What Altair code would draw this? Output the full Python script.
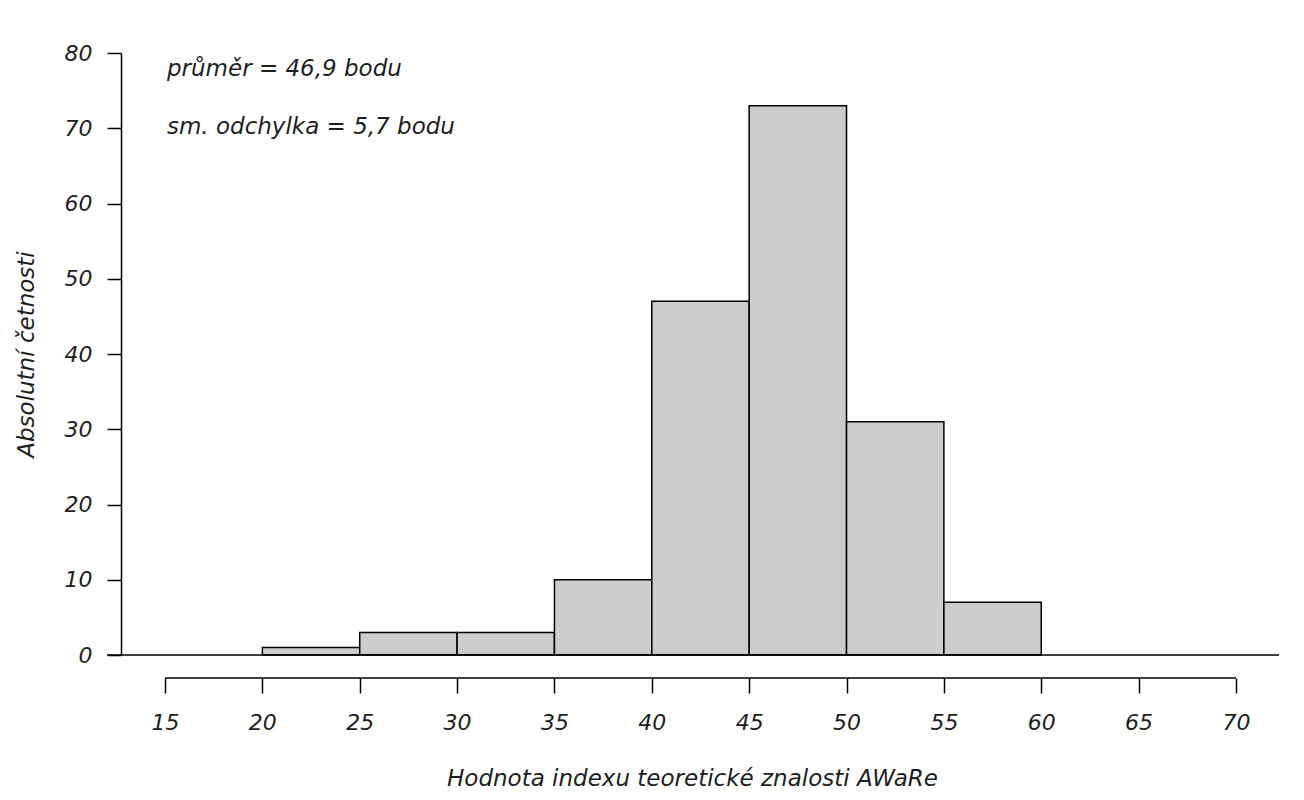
import altair as alt
import pandas as pd

# histogram bins (left edge, right edge) and absolute counts
bin_start = [15, 20, 25, 30, 35, 40, 45, 50, 55, 60, 65]
bin_end = [20, 25, 30, 35, 40, 45, 50, 55, 60, 65, 70]
counts = [0, 1, 3, 3, 10, 47, 73, 31, 7, 0, 0]

x_ticks = [15, 20, 25, 30, 35, 40, 45, 50, 55, 60, 65, 70]
y_ticks = [0, 10, 20, 30, 40, 50, 60, 70, 80]

notes = ["průměr = 46,9 bodu", "sm. odchylka = 5,7 bodu"]
note_x = [15.1, 15.1]
note_y = [77.9, 70.2]

FONT = "DejaVu Sans"
INK = "#1e1e1e"
W, H = 1158, 602

bins = pd.DataFrame({"start": bin_start, "end": bin_end, "count": counts})
bins = bins[bins["count"] > 0]
ann = pd.DataFrame({"label": notes, "x": note_x, "y": note_y})

x_scale = alt.Scale(domain=[12.74, 72.21], nice=False, zero=False)
y_scale = alt.Scale(domain=[0, 80], nice=False)

bars = alt.Chart(bins).mark_rect(fill="#cccccc", stroke="#000000", strokeWidth=1.5).encode(
    x=alt.X(
        "start:Q",
        scale=x_scale,
        title="Hodnota indexu teoretické znalosti AWaRe",
        axis=alt.Axis(
            values=x_ticks, domain=False, offset=23, tickSize=15, tickWidth=1.5,
            tickColor="#000000", labelPadding=19, grid=False,
            titleX=571, titleY=100, titleBaseline="middle", titleAnchor="middle",
        ),
    ),
    x2="end:Q",
    y=alt.Y(
        "count:Q",
        scale=y_scale,
        title="Absolutní četnosti",
        axis=alt.Axis(
            values=y_ticks, domainColor="#000000", domainWidth=1.5, tickSize=14,
            tickWidth=1.5, tickColor="#000000", labelPadding=15, grid=False,
            titleX=-95, titleY=301, titleBaseline="middle", titleAnchor="middle",
        ),
    ),
    y2=alt.datum(0),
)

baseline = alt.Chart().mark_rule(color="#000000", strokeWidth=1.5).encode(
    x=alt.datum(12.02), x2=alt.datum(72.21), y=alt.datum(0)
)

x_line = alt.Chart().mark_rule(color="#000000", strokeWidth=1.5).encode(
    x=alt.datum(15), x2=alt.datum(70), y=alt.value(H + 23)
)

text = alt.Chart(ann).mark_text(
    align="left", baseline="middle", font=FONT, fontStyle="italic", fontSize=23, color=INK
).encode(x="x:Q", y="y:Q", text="label:N")

chart = (
    alt.layer(bars, baseline, x_line, text)
    .properties(
        width=W,
        height=H,
        autosize=alt.AutoSizeParams(type="none"),
        padding={"left": 113, "top": 45, "right": 8, "bottom": 135},
    )
    .configure_view(stroke=None)
    .configure_axis(
        labelFont=FONT, labelFontStyle="italic", labelFontSize=22, labelColor=INK,
        titleFont=FONT, titleFontStyle="italic", titleFontWeight="normal",
        titleFontSize=23, titleColor=INK,
    )
)

chart.save("out.html", embed_options={"renderer": "svg", "actions": False})
